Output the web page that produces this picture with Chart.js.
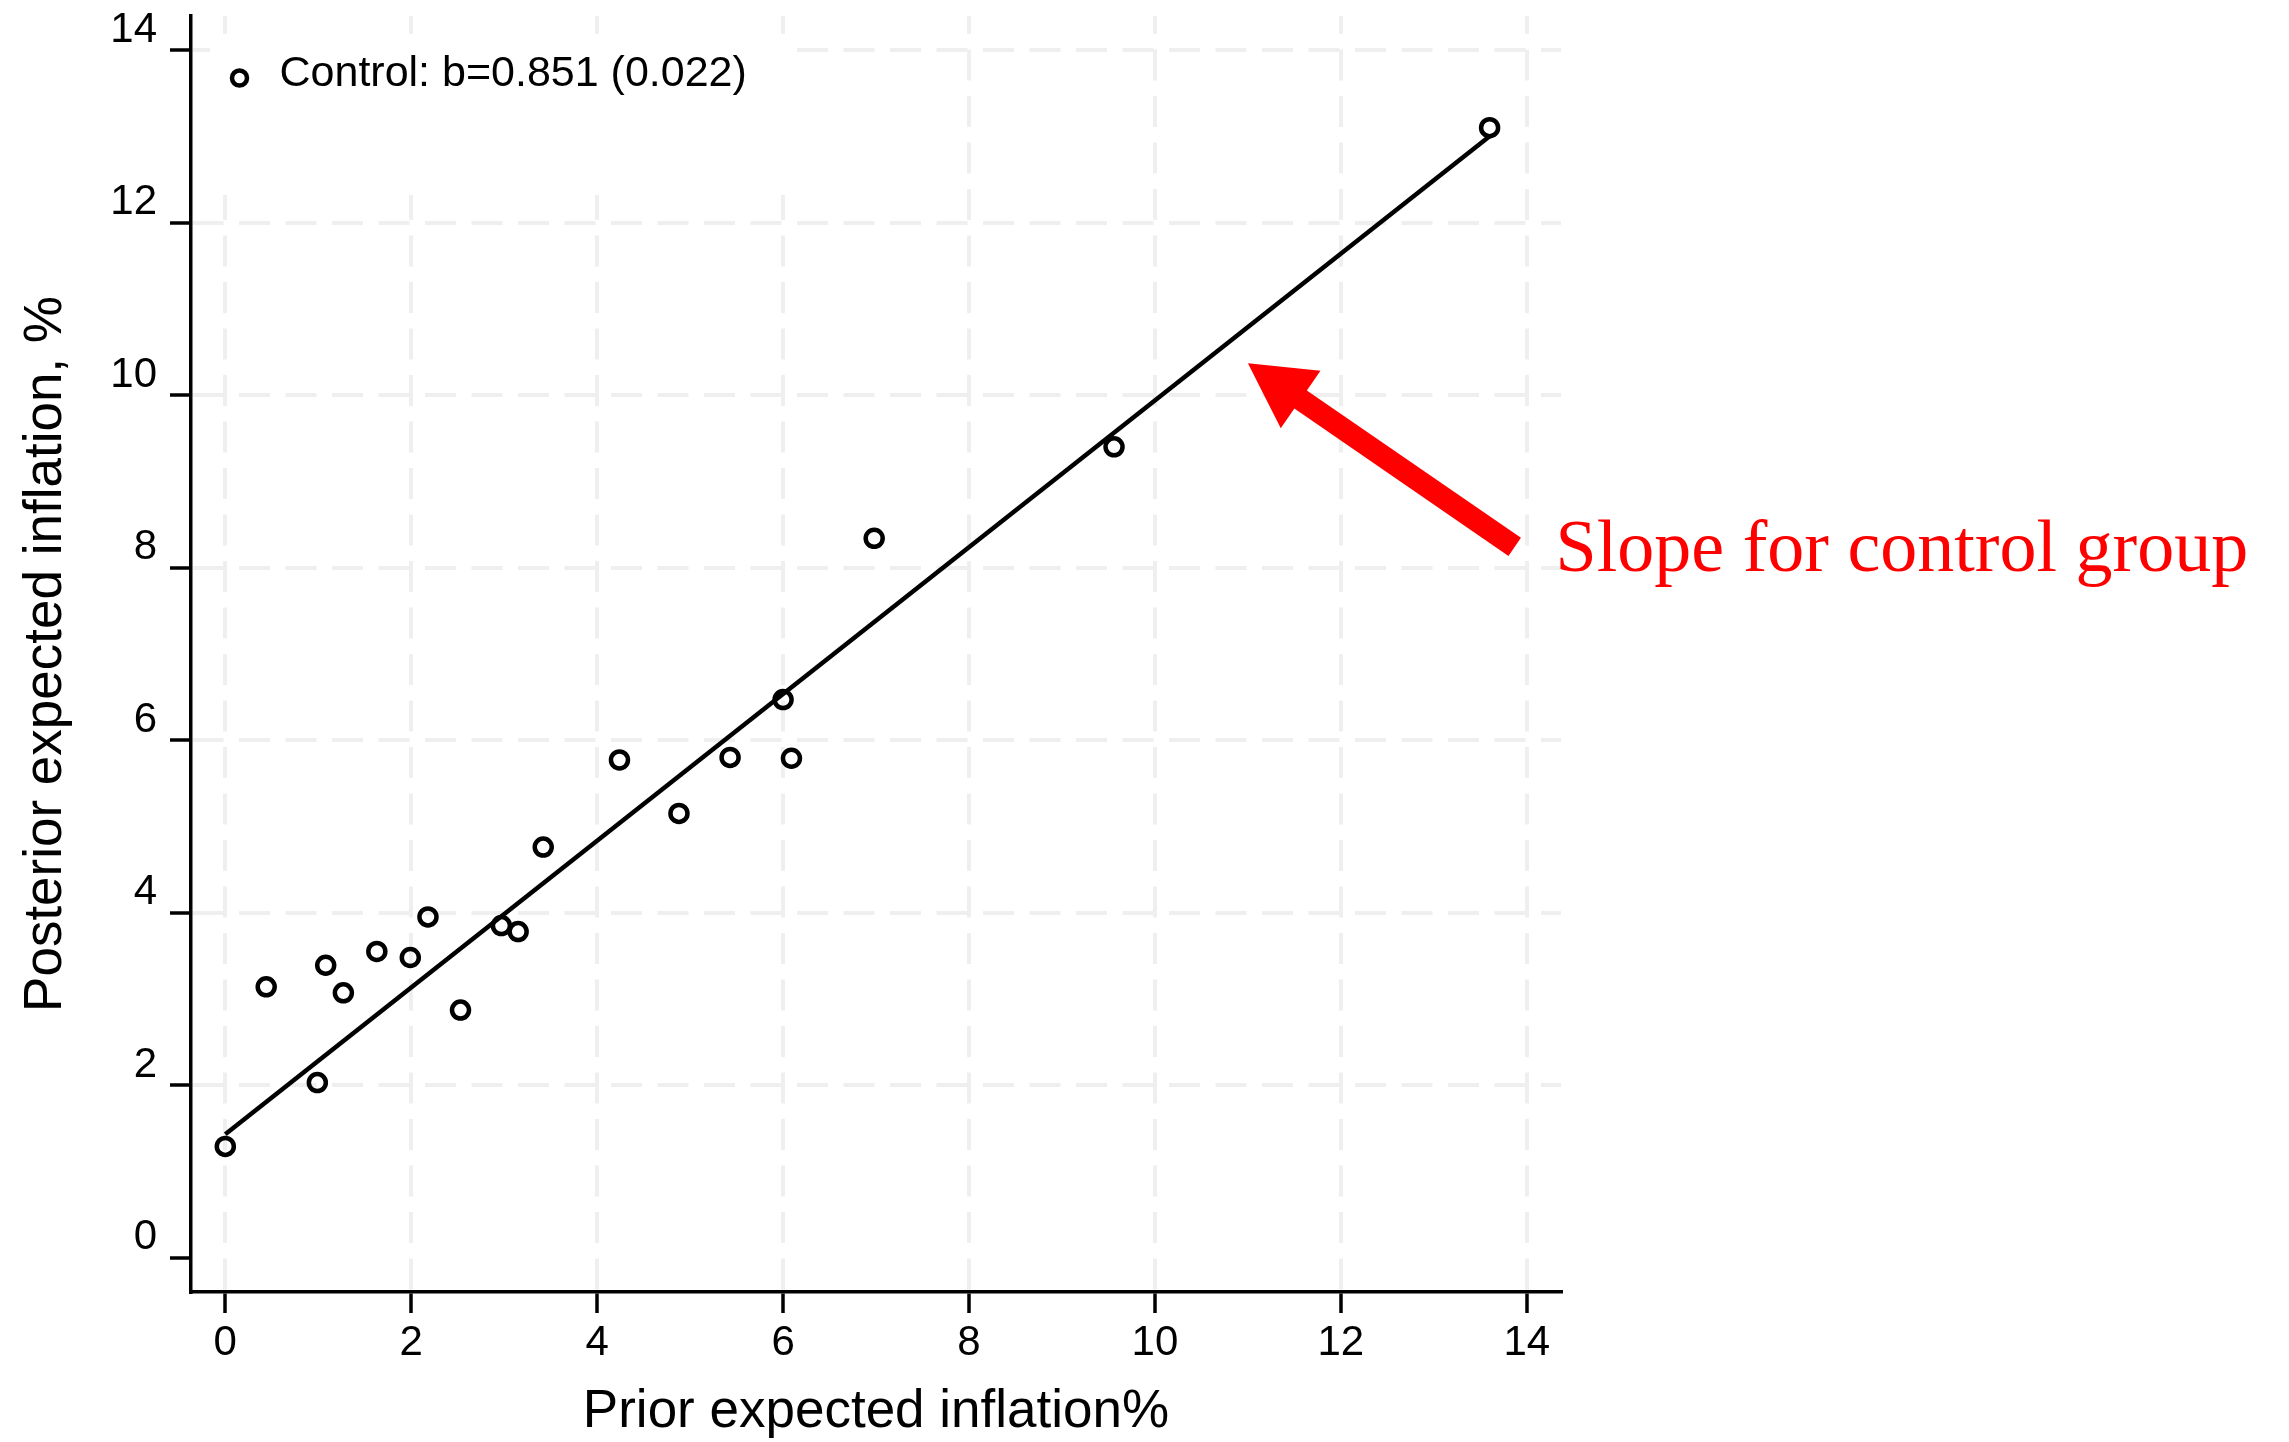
<!DOCTYPE html>
<html>
<head>
<meta charset="utf-8">
<script src="https://cdn.jsdelivr.net/npm/chart.js@4.4.0/dist/chart.umd.min.js"></script>
<style>
  html, body { margin: 0; padding: 0; background: #fff; }
  #wrap { width: 2289px; height: 1442px; position: relative; }
</style>
</head>
<body>
<div id="wrap"><canvas id="myChart"></canvas></div>
<script>
// binned scatter, control group
var priorX = [0, 0.44, 0.99, 1.08, 1.27, 1.63, 1.99, 2.18, 2.53, 2.97, 3.15, 3.42, 4.24, 4.88, 5.43, 6.00, 6.09, 6.98, 9.56, 13.60];
var posteriorY = [1.29, 3.14, 2.03, 3.39, 3.07, 3.55, 3.48, 3.95, 2.87, 3.85, 3.78, 4.76, 5.77, 5.15, 5.80, 6.47, 5.79, 8.34, 9.40, 13.10];

// fitted line ends
var fitX = [0, 13.6];
var fitY = [1.43, 13.0];

var tickValues = [0, 2, 4, 6, 8, 10, 12, 14];
var legendLabel = 'Control: b=0.851 (0.022)';
var noteText = 'Slope for control group';
// arrow: tail -> tip, and note position, in data units
var arrowFrom = [13.87, 8.24];
var arrowTo = [11.0, 10.37];
var notePos = [14.31, 7.96];

var sans = '"Liberation Sans", Arial, Helvetica, sans-serif';
var serif = '"Liberation Serif", "Times New Roman", serif';

var points = priorX.map(function (x, i) { return {x: x, y: posteriorY[i]}; });
var fitLine = fitX.map(function (x, i) { return {x: x, y: fitY[i]}; });

function setTicks(scale) {
    scale.ticks = tickValues.map(function (v) { return {value: v}; });
}

// legend box inside the plot, white background hides the grid
var legendBox = {
    id: 'legendBox',
    beforeDatasetsDraw: function (chart) {
        var ctx = chart.ctx, a = chart.chartArea;
        ctx.save();
        ctx.fillStyle = '#fff';
        ctx.fillRect(a.left + 19, a.top + 19, 585, 160);
        ctx.beginPath();
        ctx.arc(a.left + 48.5, a.top + 62, 7.5, 0, Math.PI * 2);
        ctx.lineWidth = 4.5;
        ctx.strokeStyle = '#000';
        ctx.stroke();
        ctx.fillStyle = '#000';
        ctx.font = '43px ' + sans;
        ctx.textBaseline = 'middle';
        ctx.textAlign = 'left';
        ctx.fillText(chart.data.datasets[0].label, a.left + 88.5, a.top + 58);
        ctx.restore();
    }
};

var annotate = {
    id: 'annotate',
    afterDraw: function (chart) {
        var ctx = chart.ctx, sx = chart.scales.x, sy = chart.scales.y;
        var x0 = sx.getPixelForValue(arrowFrom[0]), y0 = sy.getPixelForValue(arrowFrom[1]);
        var x1 = sx.getPixelForValue(arrowTo[0]), y1 = sy.getPixelForValue(arrowTo[1]);
        var dx = x1 - x0, dy = y1 - y0, len = Math.hypot(dx, dy);
        var ux = dx / len, uy = dy / len, nx = -uy, ny = ux;
        var sh = 11, hl = 64, hh = 35;
        var bx = x1 - ux * hl, by = y1 - uy * hl;
        ctx.save();
        ctx.fillStyle = '#ff0000';
        ctx.beginPath();
        ctx.moveTo(x0 + nx * sh, y0 + ny * sh);
        ctx.lineTo(bx + nx * sh, by + ny * sh);
        ctx.lineTo(bx + nx * hh, by + ny * hh);
        ctx.lineTo(x1, y1);
        ctx.lineTo(bx - nx * hh, by - ny * hh);
        ctx.lineTo(bx - nx * sh, by - ny * sh);
        ctx.lineTo(x0 - nx * sh, y0 - ny * sh);
        ctx.closePath();
        ctx.fill();
        ctx.font = '74px ' + serif;
        ctx.textAlign = 'left';
        ctx.textBaseline = 'alphabetic';
        ctx.fillText(noteText, sx.getPixelForValue(notePos[0]), sy.getPixelForValue(notePos[1]));
        ctx.restore();
    }
};

function createChart() {
    var ctx = document.getElementById('myChart');
    var myChart = new Chart(ctx, {
        type: 'scatter',
        data: {
            datasets: [{
                label: legendLabel,
                data: points,
                pointStyle: 'circle',
                pointRadius: 8.5,
                pointBorderWidth: 4.5,
                borderColor: '#000',
                backgroundColor: 'rgba(0,0,0,0)',
                order: 0
            }, {
                label: 'fit',
                data: fitLine,
                showLine: true,
                borderColor: '#000',
                borderWidth: 4.5,
                pointRadius: 0,
                fill: false,
                order: 1
            }]
        },
        options: {
            responsive: true,
            maintainAspectRatio: false,
            animation: false,
            events: [],
            layout: { padding: { top: 16, right: 728, left: 0, bottom: 0 } },
            plugins: {
                legend: { display: false },
                tooltip: { enabled: false }
            },
            scales: {
                x: {
                    type: 'linear',
                    min: -0.369,
                    max: 14.368,
                    afterBuildTicks: setTicks,
                    afterFit: function (s) {
                        s.height = 150;
                        s.paddingLeft = 0;
                        s.paddingRight = 0;
                    },
                    ticks: {
                        color: '#000',
                        font: { family: sans, size: 42, lineHeight: 1.2 },
                        padding: 5,
                        maxRotation: 0,
                        autoSkip: false
                    },
                    grid: {
                        color: '#efefef',
                        lineWidth: 4,
                        tickColor: '#000',
                        tickWidth: 3.5,
                        tickLength: 21
                    },
                    border: { display: true, color: '#000', width: 3.5, dash: [31, 15.5], dashOffset: 13 },
                    title: {
                        display: true,
                        text: 'Prior expected inflation%',
                        color: '#000',
                        font: { family: sans, size: 53, lineHeight: 1.1 },
                        padding: { top: 0, bottom: 0 }
                    }
                },
                y: {
                    type: 'linear',
                    min: -0.398,
                    max: 14.395,
                    afterBuildTicks: setTicks,
                    afterFit: function (s) {
                        s.width = 191;
                        s.paddingTop = 0;
                        s.paddingBottom = 0;
                    },
                    ticks: {
                        color: '#000',
                        font: { family: sans, size: 42, lineHeight: 1.2 },
                        padding: 13,
                        labelOffset: -20,
                        autoSkip: false
                    },
                    grid: {
                        color: function (c) { return c.tick && c.tick.value === 0 ? 'rgba(0,0,0,0)' : '#efefef'; },
                        lineWidth: 4,
                        tickColor: '#000',
                        tickWidth: 3.5,
                        tickLength: 21
                    },
                    border: { display: true, color: '#000', width: 3.5, dash: [31, 15.5], dashOffset: 0 },
                    title: {
                        display: true,
                        text: 'Posterior expected inflation, %',
                        color: '#000',
                        font: { family: sans, size: 53, lineHeight: 1.1 },
                        padding: { top: 17.5, bottom: 0 }
                    }
                }
            }
        },
        plugins: [legendBox, annotate]
    });
}

createChart();
</script>
</body>
</html>
